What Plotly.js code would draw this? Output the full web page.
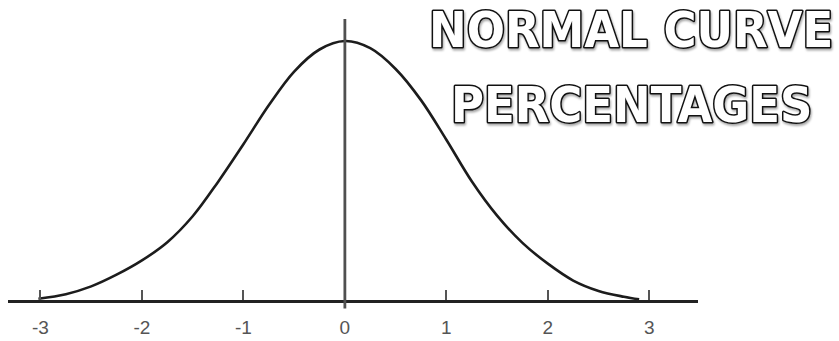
<!DOCTYPE html>
<html>
<head>
<meta charset="utf-8">
<script src="https://cdn.plot.ly/plotly-3.0.1.min.js"></script>
<style>
  html, body { margin: 0; padding: 0; background: white; }
  #chart { width: 839px; height: 341px; }
  /* outlined poster-style heading */
  .annotation-text {
    fill: white !important;
    stroke: #111;
    stroke-width: 3px;
    paint-order: stroke;
    stroke-linejoin: round;
    filter: drop-shadow(1px 2px 1px rgba(0,0,0,0.35));
  }
</style>
</head>
<body>
<div id="chart"></div>
<script>
// z-scores and curve heights
const zValues = [-3.02, -2.75, -2.5, -2.25, -2.0, -1.75, -1.5, -1.25, -1.0, -0.75, -0.5, -0.25,
  0, 0.25, 0.5, 0.75, 1.0, 1.25, 1.5, 1.75, 2.0, 2.25, 2.5, 2.75, 2.9];
const density = [0.002, 0.009, 0.021, 0.039, 0.061, 0.089, 0.129, 0.182, 0.24, 0.3, 0.352, 0.386,
  0.399, 0.388, 0.356, 0.308, 0.247, 0.183, 0.13, 0.088, 0.056, 0.03, 0.014, 0.005, 0.001];

const tickVals = [-3, -2, -1, 0, 1, 2, 3];
const tickLabels = ['-3', '-2', '-1', '0', '1', '2', '3'];
const titleLines = ['NORMAL CURVE', 'PERCENTAGES'];

const data = [{
  type: 'scatter',
  mode: 'lines',
  x: zValues,
  y: density,
  line: { color: '#1c1c1c', width: 2.6, shape: 'spline', smoothing: 1 },
  hoverinfo: 'skip',
}];

const layout = {
  width: 839,
  height: 341,
  paper_bgcolor: 'white',
  plot_bgcolor: 'white',
  margin: { t: 19, r: 141, b: 41, l: 8 },
  showlegend: false,
  xaxis: {
    range: [-3.32, 3.48],
    showgrid: false,
    zeroline: false,
    showline: true,
    linecolor: '#222',
    linewidth: 3,
    ticks: 'inside',
    ticklen: 10,
    tickwidth: 2,
    tickcolor: '#555',
    tickvals: tickVals,
    ticktext: tickLabels,
    ticklabelstandoff: 8,
    tickfont: { family: 'Liberation Sans, Arial, sans-serif', size: 19, color: '#555' },
    fixedrange: true,
  },
  yaxis: {
    range: [0, 0.433],
    visible: false,
    fixedrange: true,
  },
  shapes: [{
    // centre line at z = 0, running a little below the axis
    type: 'line', xref: 'x', yref: 'paper',
    x0: 0, x1: 0, y0: -0.03, y1: 1,
    line: { color: '#505050', width: 2.8 },
  }],
  annotations: titleLines.map((t, i) => ({
    text: t,
    xref: 'paper', yref: 'paper',
    x: 0.903, y: i === 0 ? 0.96 : 0.695,
    xanchor: 'center', yanchor: 'middle',
    showarrow: false,
    font: { family: 'DejaVu Sans Condensed, DejaVu Sans, sans-serif', size: 50, weight: 'bold', color: 'white' },
  })),
};

Plotly.newPlot('chart', data, layout, { displayModeBar: false, staticPlot: true });
</script>
</body>
</html>
